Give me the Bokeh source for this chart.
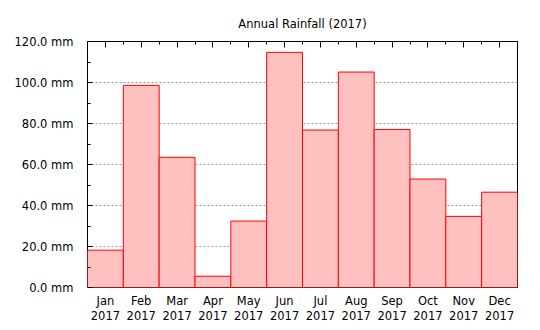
from bokeh.plotting import figure
from bokeh.models import LinearAxis, FixedTicker, Range1d, ColumnDataSource
from bokeh.embed import file_html
from bokeh.resources import INLINE

months = ["Jan", "Feb", "Mar", "Apr", "May", "Jun", "Jul", "Aug", "Sep", "Oct", "Nov", "Dec"]
year = "2017"
rainfall = [18.2, 98.6, 63.5, 5.5, 32.4, 114.7, 76.8, 105.1, 77.1, 52.9, 34.7, 46.5]
y_ticks = [0, 20, 40, 60, 80, 100, 120]
y_minor = [10, 30, 50, 70, 90, 110]
title = "Annual Rainfall (2017)"

FONT = "DejaVu Sans"
FS = "11.5px"

n = len(months)
centers = [i + 0.5 for i in range(n)]
bounds = [float(i) for i in range(n + 1)]

src = ColumnDataSource(dict(x=centers, top=rainfall))

p = figure(width=540, height=330, output_backend="svg", toolbar_location=None,
           x_range=Range1d(0, n), y_range=Range1d(0, 120),
           min_border_left=87, min_border_right=23, min_border_top=41, min_border_bottom=43,
           x_axis_location=None, y_axis_location=None)

p.title.text = title
p.title.text_font = FONT
p.title.text_font_size = FS
p.title.text_font_style = "normal"
p.title.align = "center"
p.title.text_color = "black"
p.title.standoff = 22

p.outline_line_color = "black"
p.outline_line_width = 1
p.background_fill_color = "white"
p.border_fill_color = "white"

p.vbar(x="x", top="top", width=1.0, bottom=0, source=src,
       fill_color="#FFC0C0", line_color="red", line_width=1)

# grid
p.xgrid.visible = False
p.ygrid.ticker = FixedTicker(ticks=y_ticks[1:-1])
p.ygrid.grid_line_color = "#999999"
p.ygrid.grid_line_dash = "2 2"
p.ygrid.grid_line_width = 1

# left axis
ly = LinearAxis(ticker=FixedTicker(ticks=y_ticks, minor_ticks=y_minor))
ly.major_label_overrides = {t: f"{t:.1f} mm" for t in y_ticks}
ly.axis_line_color = None
ly.major_tick_in = 5
ly.major_tick_out = 0
ly.minor_tick_in = 3
ly.minor_tick_out = 0
ly.major_label_standoff = 14
ly.major_label_text_font = FONT
ly.major_label_text_font_size = FS
ly.major_label_text_color = "black"
p.add_layout(ly, "left")

# bottom axis
bx = LinearAxis(ticker=FixedTicker(ticks=centers))
bx.major_label_overrides = {c: f"{m}\n{year}" for c, m in zip(centers, months)}
bx.axis_line_color = None
bx.major_tick_in = 0
bx.major_tick_out = 0
bx.minor_tick_in = 0
bx.minor_tick_out = 0
bx.major_label_standoff = 6
bx.major_label_text_font = FONT
bx.major_label_text_font_size = FS
bx.major_label_text_color = "black"
bx.major_label_text_line_height = 1.1
p.add_layout(bx, "below")

# top axis (ticks only)
tx = LinearAxis(ticker=FixedTicker(ticks=centers, minor_ticks=bounds))
tx.axis_line_color = None
tx.major_tick_in = 6
tx.major_tick_out = 0
tx.major_tick_line_color = "black"
tx.minor_tick_in = 3
tx.minor_tick_out = 0
tx.minor_tick_line_color = "black"
tx.major_label_text_font_size = "0px"
tx.major_label_standoff = 0
tx.major_label_overrides = {c: "" for c in centers}
p.add_layout(tx, "above")

open("out.html", "w").write(file_html(p, INLINE))
